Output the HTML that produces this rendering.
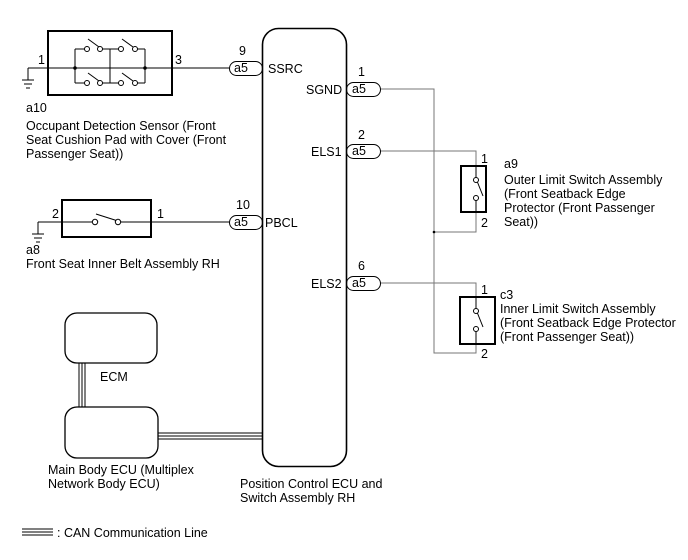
<!DOCTYPE html>
<html><head><meta charset="utf-8"><style>
body{margin:0;background:#fff}
svg{display:block}
text{font-family:"Liberation Sans",Arial,sans-serif;font-size:12.5px;fill:#000}
</style></head><body>
<svg width="688" height="560" viewBox="0 0 688 560" xmlns="http://www.w3.org/2000/svg">
<g fill="none" stroke="#000" stroke-width="1">
<rect x="262.5" y="28.5" width="84" height="438" rx="16" stroke-width="1.6"/>
<rect x="48" y="31" width="124" height="64" stroke-width="2"/>
<path d="M28 68H229M28 68V80M22 80H34M24 84H32M26 88H30"/>
<path d="M75 49V83M145 49V83M110 49V83M75 49H85M100 49H119M135 49H145M75 83H85M100 83H119M135 83H145"/>
<circle cx="87" cy="49" r="2.5" fill="#fff"/><circle cx="100" cy="49" r="2.5" fill="#fff"/>
<circle cx="121" cy="49" r="2.5" fill="#fff"/><circle cx="135" cy="49" r="2.5" fill="#fff"/>
<circle cx="87" cy="83" r="2.5" fill="#fff"/><circle cx="100" cy="83" r="2.5" fill="#fff"/>
<circle cx="121" cy="83" r="2.5" fill="#fff"/><circle cx="135" cy="83" r="2.5" fill="#fff"/>
<path d="M88 39L99 47M122 39L133 47M88 73L99 81M122 73L133 81"/>
<circle cx="75" cy="68" r="1.3" fill="#000"/><circle cx="145" cy="68" r="1.3" fill="#000"/>
<rect x="62" y="200" width="89" height="37" stroke-width="2"/>
<path d="M38 222H93M120 222H229M38 222V234M32 234H44M34 238H42M36 242H40M96 214L118 221"/>
<circle cx="95" cy="222" r="2.7" fill="#fff"/><circle cx="118" cy="222" r="2.7" fill="#fff"/>
<g stroke="#777">
<path d="M380 89H434V353H476V344M380 151H476V166M434 232H476V212M380 283H476V297"/>
</g>
<circle cx="434" cy="232" r="1.3" fill="#000" stroke="none"/>
<rect x="461" y="166" width="25" height="46" stroke-width="2"/>
<path d="M476 166V178M476 200V212M477 181L483 196"/>
<circle cx="476" cy="180" r="2.5" fill="#fff"/><circle cx="476" cy="198" r="2.5" fill="#fff"/>
<rect x="460" y="297" width="35" height="47" stroke-width="2"/>
<path d="M476 297V309M476 331V344M477 312L483 327"/>
<circle cx="476" cy="311" r="2.5" fill="#fff"/><circle cx="476" cy="329" r="2.5" fill="#fff"/>
<rect x="229.5" y="61.5" width="33" height="14" rx="7"/>
<rect x="229.5" y="215.5" width="33" height="14" rx="7"/>
<rect x="346.5" y="82.5" width="34" height="14" rx="7"/>
<rect x="346.5" y="144.5" width="34" height="14" rx="7"/>
<rect x="346.5" y="276.5" width="34" height="14" rx="7"/>
<rect x="65" y="313" width="92" height="50" rx="12" stroke-width="1.3"/>
<rect x="65" y="407" width="93" height="51" rx="12" stroke-width="1.3"/>
<path d="M79 363V407M82 363V407M85 363V407"/>
<path d="M158 433H262M158 436H262M158 439H262"/>
<path d="M22 529H53M22 532H53M22 535H53"/>
</g>
<text x="38" y="64">1</text><text x="175" y="64">3</text>
<text x="239" y="55">9</text><text x="234" y="72">a5</text><text x="268" y="73">SSRC</text>
<text x="26" y="112">a10</text>
<text x="26" y="130">Occupant Detection Sensor (Front</text>
<text x="26" y="144">Seat Cushion Pad with Cover (Front</text>
<text x="26" y="158">Passenger Seat))</text>
<text x="52" y="218">2</text><text x="157" y="218">1</text>
<text x="236" y="209">10</text><text x="234" y="226">a5</text><text x="265" y="227">PBCL</text>
<text x="26" y="254">a8</text>
<text x="26" y="268">Front Seat Inner Belt Assembly RH</text>
<text x="358" y="76">1</text><text x="306" y="94">SGND</text><text x="352" y="93">a5</text>
<text x="358" y="139">2</text><text x="311" y="156">ELS1</text><text x="352" y="155">a5</text>
<text x="358" y="270">6</text><text x="311" y="288">ELS2</text><text x="352" y="287">a5</text>
<text x="481" y="163">1</text><text x="481" y="227">2</text>
<text x="504" y="168">a9</text>
<text x="504" y="184">Outer Limit Switch Assembly</text>
<text x="504" y="198">(Front Seatback Edge</text>
<text x="504" y="212">Protector (Front Passenger</text>
<text x="504" y="226">Seat))</text>
<text x="481" y="294">1</text><text x="481" y="358">2</text>
<text x="500" y="299">c3</text>
<text x="500" y="313">Inner Limit Switch Assembly</text>
<text x="500" y="327">(Front Seatback Edge Protector</text>
<text x="500" y="341">(Front Passenger Seat))</text>
<text x="100" y="381">ECM</text>
<text x="48" y="474">Main Body ECU (Multiplex</text>
<text x="48" y="488">Network Body ECU)</text>
<text x="240" y="488">Position Control ECU and</text>
<text x="240" y="502">Switch Assembly RH</text>
<text x="57" y="537">: CAN Communication Line</text>
</svg>
</body></html>
